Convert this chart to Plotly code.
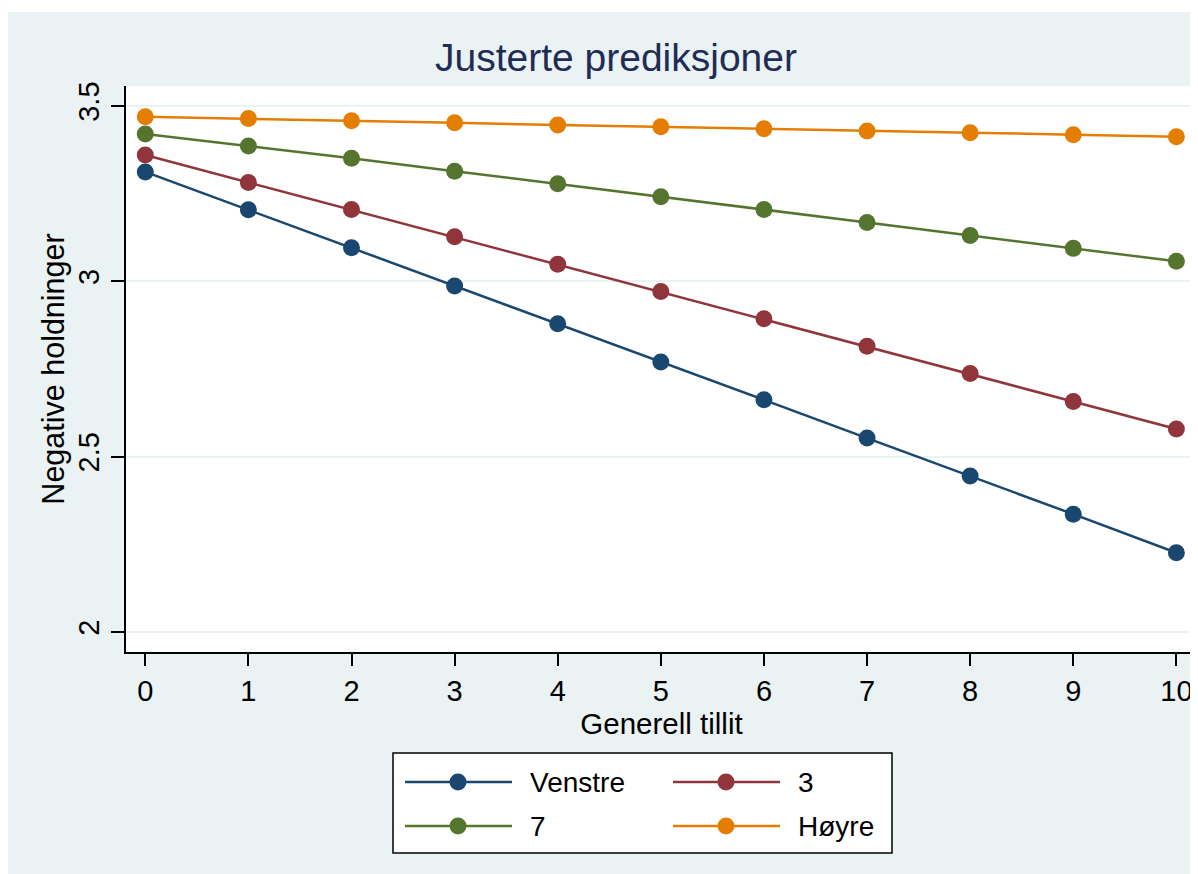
'''
    Justerte prediksjoner: negative holdninger etter generell tillit, per politisk ståsted.
'''
import plotly.graph_objects as go

# Data
tillit = [0, 1, 2, 3, 4, 5, 6, 7, 8, 9, 10]
venstre = [3.312, 3.204, 3.096, 2.987, 2.879, 2.770, 2.662, 2.553, 2.445, 2.336, 2.226]
tre = [3.360, 3.282, 3.205, 3.127, 3.049, 2.971, 2.893, 2.815, 2.737, 2.657, 2.579]
sju = [3.420, 3.386, 3.351, 3.314, 3.278, 3.241, 3.205, 3.168, 3.131, 3.094, 3.057]
hoyre = [3.469, 3.464, 3.458, 3.452, 3.446, 3.441, 3.435, 3.429, 3.424, 3.418, 3.412]

series_names = ['Venstre', '3', '7', 'Høyre']
series_values = [venstre, tre, sju, hoyre]
series_colors = ['#1a476f', '#90353b', '#55752f', '#e37e00']

y_ticks = [2, 2.5, 3, 3.5]
y_ticktext = ['2', '2.5', '3', '3.5']

FONT = 'Liberation Sans, Arial, sans-serif'
BG = '#eaf2f3'

# page offset (body margin) and plot area, in screen pixels
OFF = 8
W, H = 1198 - OFF, 874 - OFF
L, R, T, B = 126, 1197, 86, 652


def px_x(px):
    return (px - L) / (R - L)


def px_y(py):
    return (B - py) / (B - T)


fig = go.Figure()

for name, vals, color in zip(series_names, series_values, series_colors):
    fig.add_trace(go.Scatter(
        x=tillit,
        y=vals,
        name=name,
        mode='lines+markers',
        line=dict(color=color, width=2.5),
        marker=dict(color=color, size=17),
        showlegend=False,
    ))

fig.update_layout(
    width=W,
    height=H,
    margin=dict(l=L - OFF, r=W - (R - OFF), t=T - OFF, b=H - (B - OFF)),
    paper_bgcolor=BG,
    plot_bgcolor='white',
    font=dict(family=FONT, color='black'),
    title=dict(
        text='Justerte prediksjoner',
        font=dict(size=39, color='#1f2d55'),
        x=(616 - OFF) / W,
        xanchor='center',
        xref='container',
        y=1 - (57 - OFF) / H,
        yanchor='middle',
        yref='container',
    ),
)

fig.update_xaxes(
    range=[-0.187, 10.2],
    tickvals=tillit,
    showgrid=False,
    zeroline=False,
    showline=True,
    linecolor='black',
    linewidth=2,
    ticks='outside',
    ticklen=12,
    tickwidth=2,
    tickcolor='black',
    tickfont=dict(size=29),
    title=dict(text='Generell tillit', font=dict(size=29.5), standoff=1),
)

fig.update_yaxes(
    range=[1.943, 3.557],
    tickvals=y_ticks,
    ticktext=y_ticktext,
    tickangle=-90,
    showgrid=True,
    gridcolor=BG,
    gridwidth=2,
    zeroline=False,
    showline=True,
    linecolor='black',
    linewidth=2,
    ticks='outside',
    ticklen=13,
    tickwidth=2,
    tickcolor='black',
    tickfont=dict(size=29),
    title=dict(text='Negative holdninger', font=dict(size=30.5), standoff=0),
)

# thin white strip above the graph region
shapes = [
    dict(type='rect', xref='paper', yref='paper', layer='below',
         x0=px_x(OFF), x1=px_x(1198), y0=px_y(12), y1=px_y(OFF),
         fillcolor='white', line=dict(width=0)),
]

# legend drawn as a Stata-style box with long keys, two columns
shapes.append(dict(type='rect', xref='paper', yref='paper',
                   x0=px_x(393), x1=px_x(892), y0=px_y(853), y1=px_y(753),
                   fillcolor='white', line=dict(color='black', width=1.5)))
annotations = []
col_x = [405, 673]
row_y = [782, 826]
for i, (name, color) in enumerate(zip(series_names, series_colors)):
    kx = col_x[i % 2]
    ky = row_y[i // 2]
    shapes.append(dict(type='line', xref='paper', yref='paper',
                       x0=px_x(kx), x1=px_x(kx + 107), y0=px_y(ky), y1=px_y(ky),
                       line=dict(color=color, width=2.5)))
    shapes.append(dict(type='circle', xref='paper', yref='paper',
                       x0=px_x(kx + 53 - 8.5), x1=px_x(kx + 53 + 8.5),
                       y0=px_y(ky + 8.5), y1=px_y(ky - 8.5),
                       fillcolor=color, line=dict(color=color, width=0)))
    annotations.append(dict(text=name, xref='paper', yref='paper',
                            x=px_x(kx + 123), y=px_y(ky),
                            xanchor='left', yanchor='middle', showarrow=False,
                            font=dict(size=28, color='black')))

fig.update_layout(shapes=shapes, annotations=annotations)

fig.write_html('out.html')
